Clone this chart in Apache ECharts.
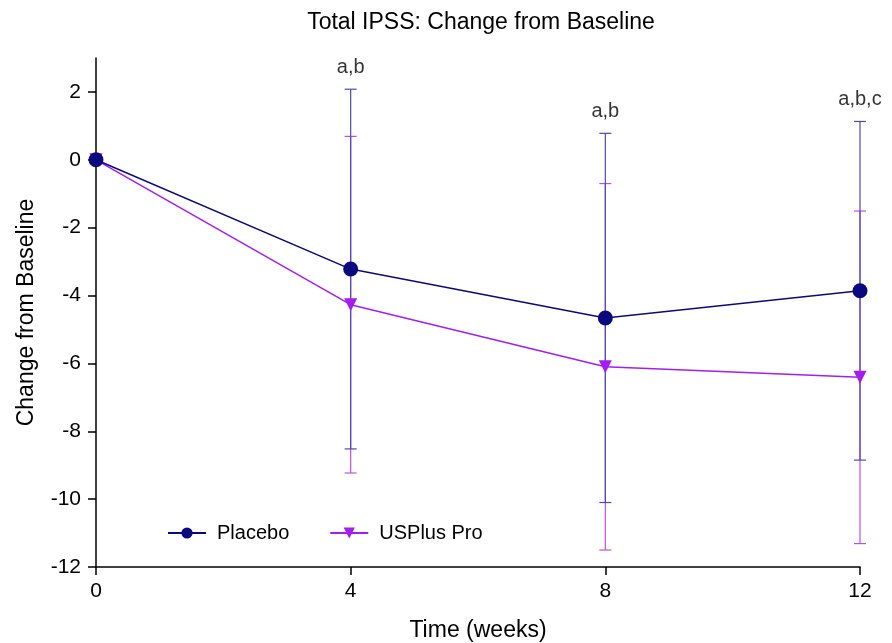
<!DOCTYPE html>
<html>
<head>
<meta charset="utf-8">
<script src="https://cdn.jsdelivr.net/npm/echarts@6/dist/echarts.min.js"></script>
<style>
  html, body { margin: 0; padding: 0; background: #fff; }
  #main { width: 892px; height: 643px; }
</style>
</head>
<body>
<div id="main"></div>
<script>
// weeks
const weeks = [0, 4, 8, 12];
// mean change and error (+/-)
const placeboMean = [0, -3.22, -4.66, -3.86];
const placeboErr = [0, 5.3, 5.44, 4.99];
const usplusMean = [0, -4.27, -6.1, -6.41];
const usplusErr = [0, 4.96, 5.4, 4.9];
// significance letters above bars
const notes = ['', 'a,b', 'a,b', 'a,b,c'];
const yTicks = [-12, -10, -8, -6, -4, -2, 0, 2];

const navy = '#0a0a7e';
const navyBar = '#4a4ab4';
const purple = '#a41df0';
const purpleBar = '#c04ee8';
const font = 'Liberation Sans, Arial, sans-serif';

function errData(mean, err) {
  return weeks.map((w, i) => [w, mean[i] - err[i], mean[i] + err[i]]);
}

function errRender(color) {
  return function (params, api) {
    if (api.value(1) === api.value(2)) return null;
    const lo = api.coord([api.value(0), api.value(1)]);
    const hi = api.coord([api.value(0), api.value(2)]);
    const hw = 6;
    const st = { stroke: color, lineWidth: 1.2 };
    return {
      type: 'group',
      children: [
        { type: 'line', shape: { x1: lo[0], y1: lo[1], x2: hi[0], y2: hi[1] }, style: st },
        { type: 'line', shape: { x1: lo[0] - hw, y1: lo[1], x2: lo[0] + hw, y2: lo[1] }, style: st },
        { type: 'line', shape: { x1: hi[0] - hw, y1: hi[1], x2: hi[0] + hw, y2: hi[1] }, style: st }
      ]
    };
  };
}

let myChart = echarts.init(document.getElementById('main'));
let option = {
  animation: false,
  textStyle: { fontFamily: font },
  title: {
    text: 'Total IPSS: Change from Baseline',
    left: 476, top: 6, textAlign: 'center',
    textStyle: { fontSize: 23, fontWeight: 'normal', color: '#000', fontFamily: font }
  },
  legend: {
    left: 162, top: 518,
    itemWidth: 38, itemHeight: 14, itemGap: 40,
    textStyle: { fontSize: 20, color: '#000', fontFamily: font, padding: [0, 0, 0, 6] },
    data: ['Placebo', 'USPlus Pro']
  },
  grid: { left: 96, right: 32, top: 58, bottom: 76, outerBoundsMode: 'none', containLabel: false },
  xAxis: {
    type: 'value', min: 0, max: 12, interval: 4,
    name: 'Time (weeks)', nameLocation: 'middle', nameGap: 52,
    nameTextStyle: { fontSize: 23, color: '#000' },
    axisLine: { onZero: false, lineStyle: { color: '#000', width: 1.5 } },
    axisTick: { length: 8, lineStyle: { color: '#000', width: 1.5 } },
    axisLabel: { fontSize: 21, color: '#000', margin: 14 },
    splitLine: { show: false }
  },
  yAxis: {
    type: 'value', min: -12, max: 3,
    name: 'Change from Baseline', nameLocation: 'middle', nameGap: 58,
    nameTextStyle: { fontSize: 23, color: '#000' },
    axisLine: { onZero: false, lineStyle: { color: '#000', width: 1.5 } },
    axisTick: { length: 8, customValues: yTicks, lineStyle: { color: '#000', width: 1.5 } },
    axisLabel: { fontSize: 21, color: '#000', margin: 15, customValues: yTicks },
    splitLine: { show: false }
  },
  series: [
    {
      type: 'custom', name: 'usErr', renderItem: errRender(purpleBar),
      data: errData(usplusMean, usplusErr), z: 1, silent: true
    },
    {
      type: 'custom', name: 'plErr', renderItem: errRender(navyBar),
      data: errData(placeboMean, placeboErr), z: 2, silent: true
    },
    {
      name: 'USPlus Pro', type: 'line',
      data: weeks.map((w, i) => [w, usplusMean[i]]),
      symbol: 'triangle', symbolRotate: 180, symbolSize: 13,
      lineStyle: { color: purple, width: 1.5 },
      itemStyle: { color: purple },
      z: 3
    },
    {
      name: 'Placebo', type: 'line',
      data: weeks.map((w, i) => [w, placeboMean[i]]),
      symbol: 'circle', symbolSize: 15,
      lineStyle: { color: navy, width: 1.5 },
      itemStyle: { color: navy },
      z: 4
    },
    {
      type: 'scatter', name: 'notes', symbolSize: 0, silent: true,
      data: weeks.map((w, i) => ({
        value: [w, placeboMean[i] + placeboErr[i]],
        label: { show: notes[i] !== '', formatter: notes[i] }
      })),
      label: { position: 'top', distance: 12, fontSize: 20, color: '#000' },
      z: 5
    }
  ]
};
myChart.setOption(option);
</script>
</body>
</html>
